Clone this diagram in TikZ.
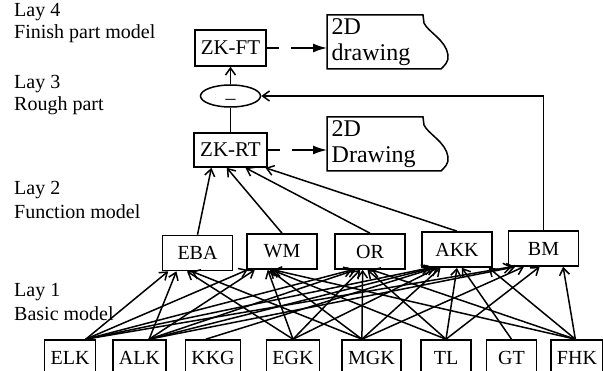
\documentclass[tikz,border=0pt]{standalone}
\usepackage{fontspec}
\setmainfont{Liberation Serif}
\usetikzlibrary{arrows.meta,shapes.geometric}
% outline of a drawing sheet, hung on the node's north west corner
\newcommand{\sheetoutline}[1]{%
  \draw[line width=1.5pt,shift={(#1.north west)}] (0,0) -- (96,0) -- (97,8)
    .. controls (101,17) and (119,25) .. (121,40)
    .. controls (122,47) and (117,51) .. (114,54) -- (0,54) -- cycle;}
\tikzset{
  lab/.style={anchor=west, inner sep=0pt, font=\fontsize{20}{22}\selectfont},
  blk/.style={draw, line width=1.6pt, inner xsep=6pt, inner ysep=0pt,
    minimum width=50pt, minimum height=36pt, font=\fontsize{20}{22}\selectfont},
  fn/.style={blk, minimum width=70pt, minimum height=35pt},
  zk/.style={blk, minimum width=71pt, font=\fontsize{21}{23}\selectfont},
  ell/.style={ellipse, draw, line width=1.5pt, minimum width=60pt, minimum height=22pt,
    inner sep=0pt, text height=8pt, text depth=0pt, font=\fontsize{20}{22}\selectfont},
  sheet/.style={inner sep=0pt, minimum width=121pt, minimum height=54pt, text width=112pt,
    align=left, font=\fontsize{24}{26}\selectfont},
  arr/.style={-{Straight Barb[length=7pt,width=10pt]}, line width=1.5pt},
  dsh/.style={-{Latex[length=14pt,width=9pt]}, line width=1.5pt,
    dash pattern=on 12pt off 12pt on 80pt off 1pt},
}
\begin{document}
\begin{tikzpicture}[x=1pt,y=-1pt]
        \useasboundingbox (0,0) rectangle (603,371);
        % Layer captions
        \node[lab] (L4a) at (14,12) {Lay 4};
        \node[lab] (L4b) at (14,34) {Finish part model};
        \node[lab] (L3a) at (14,84) {Lay 3};
        \node[lab] (L3b) at (14,106) {Rough part};
        \node[lab] (L2a) at (14,190) {Lay 2};
        \node[lab] (L2b) at (14,212) {Function model};
        \node[lab] (L1a) at (14,292) {Lay 1};
        \node[lab] (L1b) at (14,314) {Basic model};
        % Part models and drawings
        \node[zk, minimum height=36pt] (ZKFT) at (230.5,48) {ZK-FT};
        \node[ell] (ELL) at (230.5,96) {\raisebox{-5pt}{--}};
        \node[zk, minimum height=34pt] (ZKRT) at (230.5,150) {ZK-RT};
        \node[sheet, anchor=north west] (DRW1) at (327,15) {2D\\drawing};
        \node[sheet, anchor=north west] (DRW2) at (327,117) {2D\\Drawing};
        \sheetoutline{DRW1}
        \sheetoutline{DRW2}
        % Function models
        \foreach \n/\x/\y in {EBA/197.5/253, WM/282/251.5, OR/370/251.5, AKK/457/249.5, BM/543.5/248.5} {
            \node[fn] (\n) at (\x,\y) {\n};
        }
        % Basic models (bottom edges run off the page)
        \foreach \n/\x in {ELK/70, ALK/139.5, KKG/213, EGK/293, MGK/371.5, TL/446, GT/511.5, FHK/577} {
            \node[blk] (\n) at (\x,358) {\n};
        }
        % Upper connectors
        \draw[arr] (ELL) -- (ZKFT);
        \draw[line width=1.5pt] (ELL) -- (ZKRT);
        \draw[arr] (BM.north) |- (ELL.east);
        \draw[dsh] (ZKFT.east) -- (ZKFT.east -| DRW1.west);
        \draw[dsh] (ZKRT.east) -- (ZKRT.east -| DRW2.west);
        \foreach \n/\a in {EBA/223, WM/258, OR/310, AKK/333} {
            \draw[arr] (\n.north) -- (ZKRT.\a);
        }
        % Basic models to function models
        \foreach \s/\o/\t/\a in {
            ELK/50/EBA/212, ALK/63/EBA/221, EGK/90/EBA/240, MGK/117/EBA/252,
            ELK/50/WM/208, ALK/63/WM/214, EGK/90/WM/232, MGK/117/WM/236, TL/90/WM/240, FHK/95/WM/244,
            ELK/50/OR/226, ALK/63/OR/232, EGK/90/OR/242, MGK/117/OR/248, TL/90/OR/262, FHK/95/OR/275,
            ELK/50/AKK/214, ALK/63/AKK/217, KKG/111/AKK/220, EGK/90/AKK/224, MGK/117/AKK/228,
            TL/90/AKK/270, GT/90/AKK/285, FHK/95/AKK/330,
            ELK/50/BM/210, ALK/63/BM/213, MGK/117/BM/223, TL/90/BM/258, FHK/95/BM/317} {
            \draw[arr] (\s.\o) -- (\t.\a);
        }
\end{tikzpicture}
\end{document}
